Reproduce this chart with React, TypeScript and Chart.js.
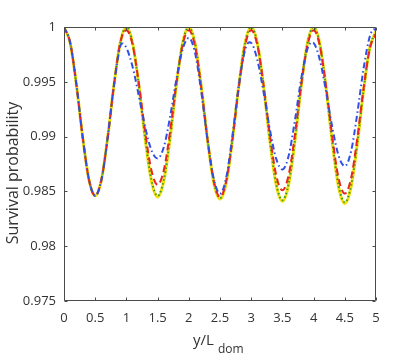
import React, { useEffect, useRef } from "react";
import { Chart, registerables } from "chart.js";

Chart.register(...registerables);

const xValues = [
  0, 0.1, 0.2, 0.3, 0.4, 0.5, 0.6, 0.7, 0.8, 0.9,
  1, 1.1, 1.2, 1.3, 1.4, 1.5, 1.6, 1.7, 1.8, 1.9,
  2, 2.1, 2.2, 2.3, 2.4, 2.5, 2.6, 2.7, 2.8, 2.9,
  3, 3.1, 3.2, 3.3, 3.4, 3.5, 3.6, 3.7, 3.8, 3.9,
  4, 4.1, 4.2, 4.3, 4.4, 4.5, 4.6, 4.7, 4.8, 4.9,
  5,
];

const yellowValues = [
  1, 0.99853, 0.99468, 0.98992, 0.98607, 0.9846, 0.98607, 0.98992, 0.99468, 0.99853,
  1, 0.99852, 0.99464, 0.98986, 0.98598, 0.9845, 0.98598, 0.98986, 0.99464, 0.99852,
  1, 0.9985, 0.99458, 0.98972, 0.9858, 0.9843, 0.9858, 0.98972, 0.99458, 0.9985,
  1, 0.99848, 0.99451, 0.98959, 0.98562, 0.9841, 0.98562, 0.98959, 0.99451, 0.99848,
  1, 0.99846, 0.99444, 0.98946, 0.98544, 0.9839, 0.9854, 0.98932, 0.99418, 0.9981,
  0.9996,
];

const greenValues = [
  1, 0.99853, 0.99468, 0.98992, 0.98607, 0.9846, 0.98607, 0.98992, 0.99468, 0.99853,
  1, 0.99852, 0.99464, 0.98986, 0.98607, 0.9846, 0.98607, 0.98986, 0.99464, 0.99852,
  1, 0.9985, 0.99458, 0.98972, 0.9859, 0.9844, 0.9859, 0.98972, 0.99458, 0.9985,
  1, 0.99848, 0.99451, 0.98959, 0.98572, 0.9842, 0.98572, 0.98959, 0.99451, 0.99848,
  1, 0.99846, 0.99444, 0.98946, 0.98554, 0.984, 0.9855, 0.98932, 0.99418, 0.9981,
  0.9996,
];

const redValues = [
  1, 0.99853, 0.99468, 0.98992, 0.98607, 0.9846, 0.98607, 0.98991, 0.99466, 0.99852,
  0.9997, 0.99835, 0.99483, 0.99047, 0.98695, 0.9856, 0.98695, 0.99047, 0.99483, 0.99835,
  0.9997, 0.99825, 0.99445, 0.98975, 0.98595, 0.9845, 0.98595, 0.98975, 0.99445, 0.99825,
  0.9997, 0.99831, 0.99466, 0.99014, 0.98649, 0.9851, 0.98649, 0.99014, 0.99466, 0.99831,
  0.9997, 0.99828, 0.99455, 0.98995, 0.98622, 0.9848, 0.98619, 0.98984, 0.99436, 0.99801,
  0.9994,
];

const blueX = [
  0, 0.1, 0.2, 0.3, 0.4, 0.5, 0.6, 0.7, 0.8, 0.9, 0.93,
  1, 1.1, 1.2, 1.3, 1.4, 1.5, 1.6, 1.7, 1.8, 1.9,
  2, 2.1, 2.2, 2.3, 2.4, 2.5, 2.6, 2.7, 2.8, 2.9, 2.97,
  3, 3.1, 3.2, 3.3, 3.4, 3.5, 3.6, 3.7, 3.8, 3.9, 3.97,
  4, 4.1, 4.2, 4.3, 4.4, 4.5, 4.6, 4.7, 4.8, 4.9, 4.97,
  5,
];

const blueValues = [
  1, 0.99853, 0.99468, 0.98992, 0.98607, 0.9846, 0.98607, 0.98992, 0.99468, 0.9982, 0.9985,
  0.9981, 0.99636, 0.99368, 0.99088, 0.98878, 0.988, 0.98905, 0.9918, 0.9952, 0.99795,
  0.999, 0.99764, 0.99409, 0.98971, 0.98616, 0.9848, 0.98628, 0.99011, 0.9946, 0.99785, 0.9986,
  0.99855, 0.99696, 0.994, 0.99062, 0.98799, 0.987, 0.98825, 0.99146, 0.99524, 0.99797, 0.9986,
  0.99855, 0.997, 0.99411, 0.99083, 0.98827, 0.9873, 0.98864, 0.99211, 0.99618, 0.99913, 0.9998,
  0.9997,
];

const xTickValues = [0, 0.5, 1, 1.5, 2, 2.5, 3, 3.5, 4, 4.5, 5];
const xTickLabels = ["0", "0.5", "1", "1.5", "2", "2.5", "3", "3.5", "4", "4.5", "5"];
const yTickValues = [0.975, 0.98, 0.985, 0.99, 0.995, 1];
const yTickLabels = ["0.975", "0.98", "0.985", "0.99", "0.995", "1"];

const yTitle = "Survival probability";
const xTitleMain = "y/L";
const xTitleSub = "dom";

const FONT = "'Open Sans', 'DejaVu Sans', sans-serif";
const TEXT = "#333333";
const AXIS = "#4a4a4a";

const pts = (xs: number[], ys: number[]) => xs.map((x, i) => ({ x, y: ys[i] }));

const framePlugin = {
  id: "frame",
  afterDraw(chart: any) {
    const { ctx, chartArea } = chart;
    const xs = chart.scales.x;
    const ys = chart.scales.y;
    const l = Math.round(chartArea.left) + 0.5;
    const r = Math.round(chartArea.right) - 0.5;
    const t = Math.round(chartArea.top) + 0.5;
    const b = Math.round(chartArea.bottom) - 0.5;
    const tl = 3;
    ctx.save();
    ctx.strokeStyle = AXIS;
    ctx.lineWidth = 1;
    ctx.beginPath();
    ctx.rect(l, t, r - l, b - t);
    xTickValues.forEach((v) => {
      const px = Math.round(xs.getPixelForValue(v)) + 0.5;
      ctx.moveTo(px, b);
      ctx.lineTo(px, b - tl);
      ctx.moveTo(px, t);
      ctx.lineTo(px, t + tl);
    });
    yTickValues.forEach((v) => {
      const py = Math.round(ys.getPixelForValue(v)) + 0.5;
      ctx.moveTo(l, py);
      ctx.lineTo(l + tl, py);
      ctx.moveTo(r, py);
      ctx.lineTo(r - tl, py);
    });
    ctx.stroke();

    ctx.fillStyle = TEXT;
    ctx.save();
    ctx.translate(13, 173);
    ctx.rotate(-Math.PI / 2);
    ctx.font = `16px ${FONT}`;
    ctx.textAlign = "center";
    ctx.textBaseline = "middle";
    ctx.fillText(yTitle, 0, 0);
    ctx.restore();

    ctx.textAlign = "left";
    ctx.textBaseline = "alphabetic";
    ctx.font = `15px ${FONT}`;
    ctx.fillText(xTitleMain, 193, 345);
    ctx.font = `12px ${FONT}`;
    ctx.fillText(xTitleSub, 218, 353);
    ctx.restore();
  },
};

export default function App() {
  const ref = useRef<HTMLCanvasElement | null>(null);

  useEffect(() => {
    if (!ref.current) return;
    const chart = new Chart(ref.current, {
      type: "line",
      data: {
        datasets: [
          {
            label: "blue",
            data: pts(blueX, blueValues),
            borderColor: "#2f4fe6",
            borderWidth: 2,
            borderDash: [6, 3, 1.5, 3],
            pointRadius: 0,
            cubicInterpolationMode: "monotone",
            fill: false,
          },
          {
            label: "red",
            data: pts(xValues, redValues),
            borderColor: "#ec2424",
            borderWidth: 2,
            borderDash: [7, 4],
            pointRadius: 0,
            cubicInterpolationMode: "monotone",
            fill: false,
          },
          {
            label: "green",
            data: pts(xValues, greenValues),
            borderColor: "#3a9a1e",
            borderWidth: 2,
            borderDash: [1.5, 2.5],
            pointRadius: 0,
            cubicInterpolationMode: "monotone",
            fill: false,
          },
          {
            label: "yellow",
            data: pts(xValues, yellowValues),
            borderColor: "#f0df0a",
            borderWidth: 3,
            pointRadius: 0,
            cubicInterpolationMode: "monotone",
            fill: false,
          },
        ],
      },
      options: {
        responsive: false,
        animation: false,
        devicePixelRatio: 1,
        layout: { padding: { top: 27, right: 39, left: 0, bottom: 0 } },
        plugins: {
          legend: { display: false },
          tooltip: { enabled: false },
          title: { display: false },
        },
        scales: {
          x: {
            type: "linear",
            min: 0,
            max: 5,
            grid: { display: false, drawTicks: false },
            border: { display: false },
            afterFit: (s: any) => {
              s.height = 53;
            },
            afterBuildTicks: (s: any) => {
              s.ticks = xTickValues.map((v) => ({ value: v }));
            },
            ticks: {
              padding: 9,
              maxRotation: 0,
              autoSkip: false,
              color: TEXT,
              font: { family: FONT, size: 13 },
              callback: (_v: any, i: number) => xTickLabels[i],
            },
          },
          y: {
            type: "linear",
            min: 0.975,
            max: 1,
            grid: { display: false, drawTicks: false },
            border: { display: false },
            afterFit: (s: any) => {
              s.width = 64;
            },
            afterBuildTicks: (s: any) => {
              s.ticks = yTickValues.map((v) => ({ value: v }));
            },
            ticks: {
              padding: 8,
              autoSkip: false,
              color: TEXT,
              font: { family: FONT, size: 13 },
              callback: (_v: any, i: number) => yTickLabels[i],
            },
          },
        },
      },
      plugins: [framePlugin],
    });
    return () => chart.destroy();
  }, []);

  return (
    <div style={{ position: "fixed", left: 0, top: 0, width: 415, height: 354, background: "#fff" }}>
      <canvas ref={ref} width={415} height={354} style={{ width: 415, height: 354, display: "block" }} />
    </div>
  );
}
